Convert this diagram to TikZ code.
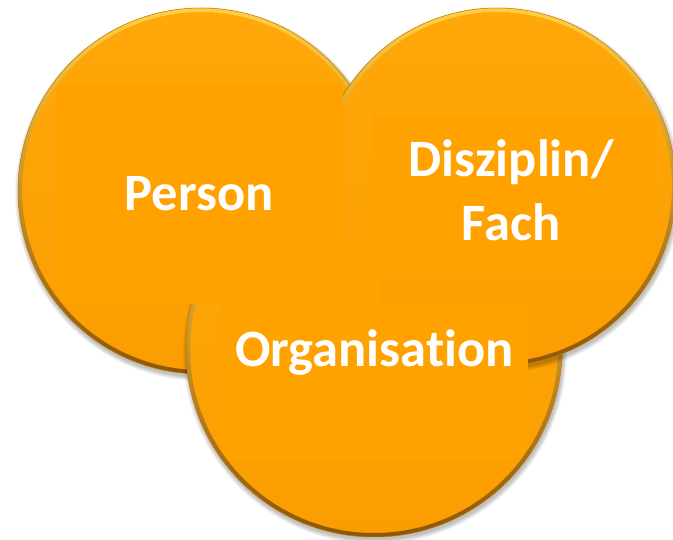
\documentclass[tikz,border=0pt]{standalone}
\usepackage{fontspec}
\setmainfont{Carlito}[Ligatures=NoCommon]
\definecolor{orng}{RGB}{255,162,0}
\definecolor{orngtop}{RGB}{255,168,10}
\definecolor{orngbot}{RGB}{251,157,0}
\definecolor{rimtop}{RGB}{255,208,70}
\definecolor{rimbot}{RGB}{140,85,10}
\definecolor{edgeline}{RGB}{200,122,0}
\tikzset{
  lbl/.style={text=white, font=\fontsize{52.5}{63}\selectfont\bfseries, inner sep=0pt, anchor=base},
  shadowdisc/.style={fill=black, opacity=0.045},
  basedisc/.style={top color=orngtop, bottom color=orngbot},
  rimdisc/.style={top color=rimtop, middle color=orng, bottom color=rimbot, even odd rule},
  edgedisc/.style={draw=edgeline, line width=0.5pt},
  textpanel/.style={fill=orng},
}
\newcommand\mybubble[3]{%
  \foreach \k in {0,...,5}{\fill[shadowdisc] (#1+1,#2-3) circle ({#3+\k*0.8});}
  \shade[basedisc] (#1,#2) circle (#3);
  \shade[rimdisc] (#1,#2) circle (#3) (#1,#2) circle (#3-4);
  \draw[edgedisc] (#1,#2) circle (#3);
}
\newcommand\mypanel[7]{% cx cy r x1 y1 x2 y2
  \begin{scope}
    \clip (#1,#2) circle (#3-5);
    \fill[textpanel] (#4,#5) rectangle (#6,#7);
  \end{scope}
}
\begin{document}
\begin{tikzpicture}[x=1pt,y=1pt]
  \useasboundingbox (0,0) rectangle (673,539);
  \fill[white] (0,0) rectangle (673,539);
  % circles: left (Person), bottom (Organisation), right (Disziplin/Fach)
  \coordinate (cperson) at (201,348);
  \coordinate (corg) at (374,190);
  \coordinate (cfach) at (497,352);
  \mybubble{201}{348}{183}
  \mybubble{374}{190}{188}
  \mybubble{497}{352}{179}
  % flat text panels lying over all circles, each clipped to its own circle
  \mypanel{201}{348}{183}{57}{235}{343}{455}
  \mypanel{497}{352}{179}{373}{269}{655}{424}
  \mypanel{374}{190}{188}{220}{78}{528}{236}
  % flat patch where the three circles meet
  \fill[textpanel] (330,234) rectangle (380,299);
  % labels
  \node[lbl] (person) at (199,328.5) {Person};
  \node[lbl] (disz) at (511,362) {Disziplin/};
  \node[lbl] (fach) at (511,298) {Fach};
  \node[lbl] (org) at (374.5,172) {Organisation};
\end{tikzpicture}
\end{document}
